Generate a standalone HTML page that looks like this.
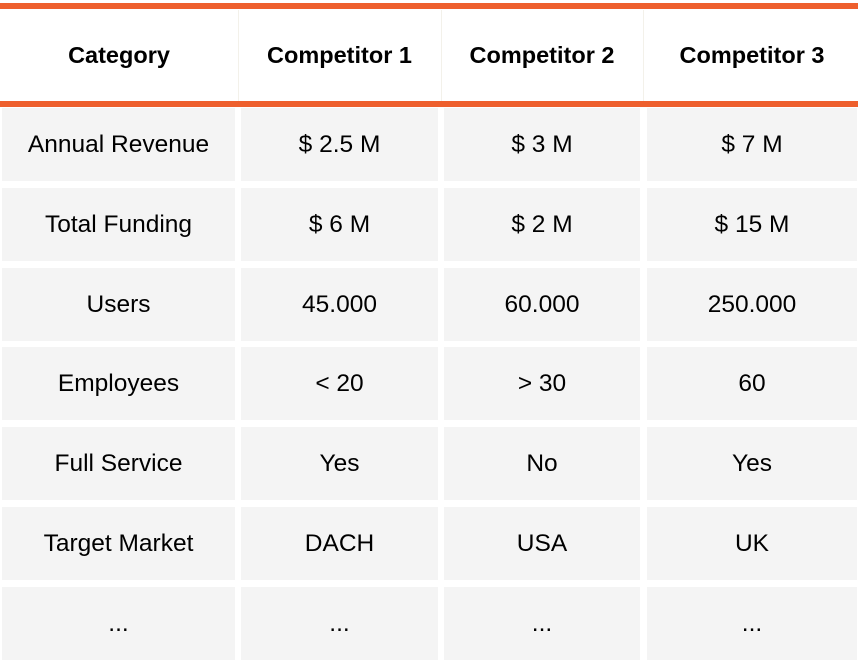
<!DOCTYPE html>
<html><head><meta charset="utf-8"><style>
body{margin:0;width:862px;height:660px;background:#fff;position:relative;overflow:hidden;font-family:"Liberation Sans",sans-serif;color:#000}
.o{position:absolute;left:0;width:858px;background:#EE5F2D}
.c{position:absolute;background:#f4f4f4;display:flex;align-items:center;justify-content:center;font-size:24.5px}
.h{position:absolute;top:10px;height:91px;display:flex;align-items:center;justify-content:center;font-size:23.5px;font-weight:bold}
.v{position:absolute;top:10px;height:91px;width:1px;background:#f3f1ea}
</style></head><body>
<div class="o" style="top:3px;height:6px"></div>
<div class="o" style="top:101px;height:6px"></div>
<div class="v" style="left:238px"></div><div class="v" style="left:441px"></div><div class="v" style="left:643px"></div>
<div class="h" style="left:2px;width:234px">Category</div>
<div class="h" style="left:241px;width:197px">Competitor 1</div>
<div class="h" style="left:444px;width:196px">Competitor 2</div>
<div class="h" style="left:647px;width:210px">Competitor 3</div>
<div id="rows"></div>
<script>
var d=[["Annual Revenue","$ 2.5 M","$ 3 M","$ 7 M"],["Total Funding","$ 6 M","$ 2 M","$ 15 M"],["Users","45.000","60.000","250.000"],["Employees","< 20","> 30","60"],["Full Service","Yes","No","Yes"],["Target Market","DACH","USA","UK"],["...","...","...","..."]];
var cols=[[2,233],[241,197],[444,196],[647,210]];
var tops=[108,188,268,347,427,507,587];
var h="";
d.forEach(function(r,i){var ht=73;r.forEach(function(t,j){h+='<div class="c" style="left:'+cols[j][0]+'px;width:'+cols[j][1]+'px;top:'+tops[i]+'px;height:'+ht+'px">'+t.replace('<','&lt;').replace('>','&gt;')+'</div>';});});
document.getElementById('rows').innerHTML=h;
</script>
</body></html>
